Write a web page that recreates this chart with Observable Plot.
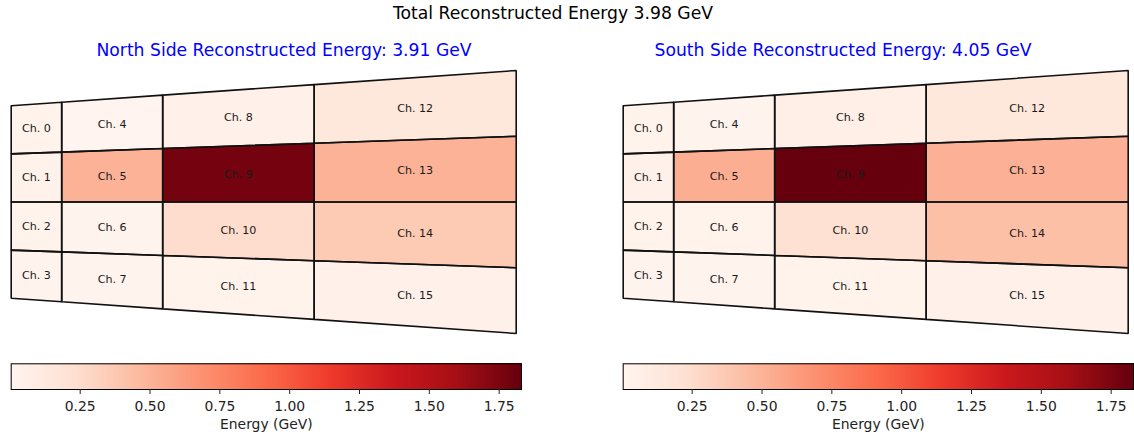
<!DOCTYPE html>
<html><head><meta charset="utf-8">
<script src="https://cdn.jsdelivr.net/npm/d3@7"></script>
<script src="https://cdn.jsdelivr.net/npm/@observablehq/plot@0.6"></script>
<style>
body{margin:0;background:#fff;font-family:"DejaVu Sans",sans-serif;}
#fig{position:relative;width:1134px;height:439px;overflow:hidden;background:#fff;}
.abs{position:absolute;}
.ttl{font-size:17.2px;line-height:17.2px;text-align:center;white-space:nowrap;width:600px;font-family:"DejaVu Sans",sans-serif;}
svg{font-family:"DejaVu Sans",sans-serif;}
</style></head><body><div id="fig"></div>
<script>
// ---- data ----
const channelIds = [0,1,2,3,4,5,6,7,8,9,10,11,12,13,14,15];
const northEnergy = [0.03,0.04,0.03,0.02, 0.01,0.51,0.02,0.02, 0.06,1.78,0.25,0.03, 0.16,0.51,0.37,0.06];
const southEnergy = [0.03,0.05,0.03,0.02, 0.02,0.53,0.03,0.02, 0.07,1.83,0.22,0.03, 0.16,0.52,0.43,0.06];
const colorDomain = [0.003, 1.83];
const colorbarTicks = [0.25,0.50,0.75,1.00,1.25,1.50,1.75];
const superTitle = "Total Reconstructed Energy 3.98 GeV";
const northTitle = "North Side Reconstructed Energy: 3.91 GeV";
const southTitle = "South Side Reconstructed Energy: 4.05 GeV";
const colorbarLabel = "Energy (GeV)";
// detector geometry: radial segment edges and angular row edges
const innerRadius = 27.36;
const columnEdges = [0,1,3,6,10];
const rowEdges = [2,1,0,-1,-2];
const rowSlope = 0.034815;
const redsStops = ["#fff5f0","#fee0d2","#fcbba1","#fc9272","#fb6a4a","#ef3b2c","#cb181d","#a50f15","#67000d"];

const interp = d3.piecewise(d3.interpolateRgb, redsStops);
const outerRadius = innerRadius + columnEdges[columnEdges.length-1];
const yMax = rowEdges[0]*rowSlope*outerRadius;

function buildCells(values){
  const verts = [], labels = [];
  channelIds.forEach((ch, k) => {
    const col = Math.floor(ch/4), row = ch % 4;
    const r0 = innerRadius + columnEdges[col], r1 = innerRadius + columnEdges[col+1];
    const s0 = rowEdges[row]*rowSlope, s1 = rowEdges[row+1]*rowSlope;
    const pts = [[r0,s0*r0],[r1,s0*r1],[r1,s1*r1],[r0,s1*r0],[r0,s0*r0]];
    pts.forEach(([x,y]) => verts.push({ch, x, y, energy: values[k]}));
    const rm = (r0+r1)/2;
    labels.push({ch, x: rm, y: (s0+s1)/2*rm, label: "Ch. " + ch});
  });
  return {verts, labels};
}

function panel(values, domain){
  const {verts, labels} = buildCells(values);
  return Plot.plot({
    width: 567, height: 285,
    x: {domain: [innerRadius, outerRadius], range: [10.7, 515.7], axis: null},
    y: {domain: [-yMax, yMax], range: [273, 10], axis: null},
    color: {type: "linear", domain, interpolate: interp, clamp: true},
    marks: [
      Plot.line(verts, {x: "x", y: "y", z: "ch", fill: "energy", stroke: "none"}),
      Plot.line(verts, {x: "x", y: "y", z: "ch", stroke: "#111", strokeWidth: 1.6, strokeLinejoin: "miter", fill: "none"}),
      Plot.text(labels, {x: "x", y: "y", text: "label", fontSize: 11.1, fill: "#1a1a1a"})
    ]
  });
}

function colorbar(domain){
  const n = 510;
  const stripes = d3.range(n).map(i => {
    const a = domain[0] + (domain[1]-domain[0])*i/n, b = domain[0] + (domain[1]-domain[0])*(i+1)/n;
    return {x1: a, x2: b, v: (a+b)/2};
  });
  return Plot.plot({
    width: 567, height: 84,
    marginLeft: 10.7, marginRight: 46, marginTop: 8.3, marginBottom: 50,
    x: {domain, ticks: colorbarTicks, tickFormat: d3.format(".2f")},
    y: {domain: [0,1], axis: null},
    color: {type: "linear", domain, interpolate: interp},
    style: {fontSize: "13.9px", color: "#222"},
    marks: [
      Plot.rectX(stripes, {x1: "x1", x2: "x2", y1: 0, y2: 1, fill: "v", inset: -0.6, shapeRendering: "crispEdges"}),
      Plot.frame({stroke: "black", strokeWidth: 1}),
      Plot.axisX({ticks: colorbarTicks, tickFormat: d3.format(".2f"), tickSize: 5, tickPadding: 7, fontSize: 13.9,
        label: colorbarLabel, labelAnchor: "center", labelArrow: "none", labelOffset: 39})
    ]
  });
}

const fig = document.getElementById("fig");
function place(el, left, top){ el.classList.add("abs"); el.style.left = left+"px"; el.style.top = top+"px"; fig.appendChild(el); return el; }
function title(text, center, top, color){
  const d = document.createElement("div");
  d.className = "ttl"; d.textContent = text; d.style.color = color;
  place(d, center-300, top);
}
title(superTitle, 553, 4.8, "#000");
title(northTitle, 284, 42.2, "#0000ff");
title(southTitle, 843, 42.2, "#0000ff");
place(panel(northEnergy, colorDomain), 0, 60);
place(panel(southEnergy, colorDomain), 611.6, 60);
place(colorbar(colorDomain), 0, 355);
place(colorbar(colorDomain), 611.6, 355);
</script></body></html>
